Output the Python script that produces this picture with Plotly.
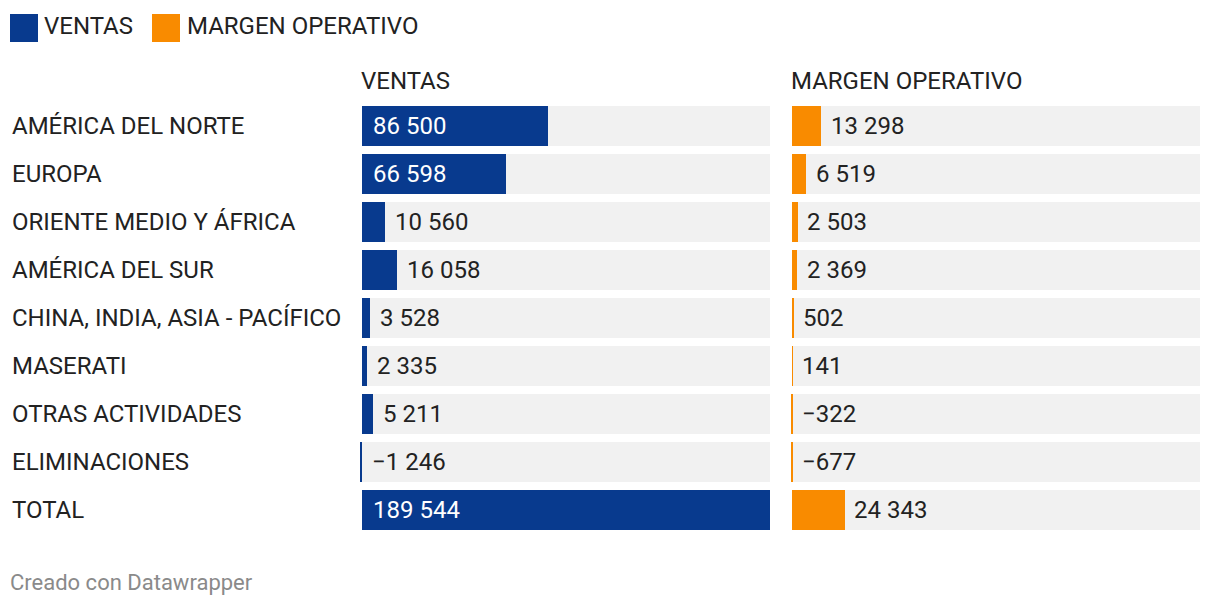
import plotly.graph_objects as go

categories = ["AMÉRICA DEL NORTE", "EUROPA", "ORIENTE MEDIO Y ÁFRICA", "AMÉRICA DEL SUR",
              "CHINA, INDIA, ASIA - PACÍFICO", "MASERATI", "OTRAS ACTIVIDADES",
              "ELIMINACIONES", "TOTAL"]
ventas = [86500, 66598, 10560, 16058, 3528, 2335, 5211, -1246, 189544]
margen = [13298, 6519, 2503, 2369, 502, 141, -322, -677, 24343]
series_names = ["VENTAS", "MARGEN OPERATIVO"]

BLUE = "#083a8e"
ORANGE = "#f98b00"
GREY = "#f1f1f1"
TEXT = "#222222"
FONT = "Roboto"
W, H = 1220, 608
OFF = 8  # page body margin


def px(x):
    return (x - OFF) / W


def py(y):
    return 1 - (y - OFF) / H


vmax = max(ventas)
xmin = -1500
pxper = 408 / vmax
col_starts = [362, 792]

fig = go.Figure()
ypos = list(range(len(categories)))


def fmt(v):
    s = f"{abs(v):,}".replace(",", " ")
    return ("−" if v < 0 else "") + s


for i, (vals, color) in enumerate([(ventas, BLUE), (margen, ORANGE)]):
    xa = "x" if i == 0 else "x2"
    fig.add_trace(go.Bar(y=ypos, x=[vmax] * len(ypos), base=0, orientation="h",
                         marker=dict(color=GREY, line=dict(width=0)), width=40 / 48,
                         xaxis=xa, yaxis="y", hoverinfo="skip", showlegend=False))
    fig.add_trace(go.Bar(y=ypos, x=vals, orientation="h",
                         marker=dict(color=color, line=dict(width=0)), width=40 / 48,
                         xaxis=xa, yaxis="y", name=series_names[i], showlegend=False))
    for j, v in enumerate(vals):
        inside = v * pxper > 100
        fig.add_annotation(x=0 if inside else max(v, 0), y=j, xref=xa, yref="y",
                           text=fmt(v), showarrow=False, xanchor="left", yanchor="middle",
                           xshift=9 if inside else 8,
                           font=dict(family=FONT, size=24, color="white" if inside else TEXT))

shift = -xmin * pxper
fig.update_layout(
    width=W, height=H, margin=dict(l=0, r=0, t=0, b=0),
    paper_bgcolor="white", plot_bgcolor="white", barmode="overlay", bargap=0,
    xaxis=dict(domain=[px(col_starts[0] - shift), px(col_starts[0] + 408)], range=[xmin, vmax],
               visible=False, fixedrange=True),
    xaxis2=dict(domain=[px(col_starts[1] - shift), px(col_starts[1] + 408)], range=[xmin, vmax],
                visible=False, fixedrange=True),
    yaxis=dict(domain=[py(534), py(102)], range=[8.5, -0.5], visible=False, fixedrange=True),
    showlegend=False,
)

for j, c in enumerate(categories):
    fig.add_annotation(x=px(10), y=j, xref="paper", yref="y", text=c, showarrow=False,
                       xanchor="left", yanchor="middle", font=dict(family=FONT, size=24, color=TEXT))

for i, name in enumerate(series_names):
    fig.add_annotation(x=px(col_starts[i] - 3), y=py(81), xref="paper", yref="paper", text=name,
                       showarrow=False, xanchor="left", yanchor="middle",
                       font=dict(family=FONT, size=24, color=TEXT))

# legend
leg = [(10, 42, BLUE, series_names[0]), (152, 185, ORANGE, series_names[1])]
for sx, tx, col, name in leg:
    fig.add_shape(type="rect", xref="paper", yref="paper", x0=px(sx), x1=px(sx + 28),
                  y0=py(42), y1=py(14), fillcolor=col, line=dict(width=0))
    fig.add_annotation(x=px(tx), y=py(26), xref="paper", yref="paper", text=name, showarrow=False,
                       xanchor="left", yanchor="middle", font=dict(family=FONT, size=24, color=TEXT))

fig.add_annotation(x=px(8), y=py(582), xref="paper", yref="paper", text="Creado con Datawrapper",
                   showarrow=False, xanchor="left", yanchor="middle",
                   font=dict(family=FONT, size=22, color="#8a8a8a"))

fig.write_html("out.html", config={"displayModeBar": False})
